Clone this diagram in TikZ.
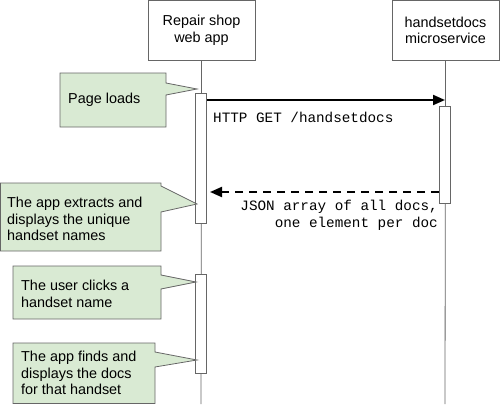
\documentclass[tikz,border=0pt]{standalone}
\usepackage{fontspec}
\setmainfont{Liberation Sans}
\setmonofont{Liberation Mono}
\usetikzlibrary{arrows.meta}
\definecolor{notefill}{HTML}{D9EAD3}
\definecolor{edge}{HTML}{666666}
\tikzset{
  participant/.style={draw=edge, line width=0.8pt, fill=white, minimum width=107pt, minimum height=59.5pt, align=center, inner sep=0pt, font=\fontsize{14.4}{16.7}\selectfont},
  lifeline/.style={draw=edge, line width=0.8pt},
  activation/.style={draw=edge, line width=0.8pt, fill=white},
  notebody/.style={draw=edge, line width=0.8pt, fill=notefill},
  notetext/.style={anchor=west, align=left, inner sep=0pt, font=\fontsize{14.4}{16.7}\selectfont},
  msgtext/.style={inner sep=0pt, font=\ttfamily\fontsize{14.3}{17}\selectfont},
  callmsg/.style={line width=2pt, -{Triangle[length=12pt,width=10pt]}},
  retmsg/.style={line width=2pt, dash pattern=on 8pt off 6pt, -{Triangle[length=12pt,width=10pt]}},
}
\newcommand{\callout}[9]{% name, x1,y1,x2,y2, py1,py2, tipx,tipy
  \fill[notefill] (#2,#3) -- (#4,#3) -- (#4,#6) -- (#8,#9) -- (#4,#7) -- (#4,#5) -- (#2,#5) -- cycle;
  \draw[notebody, fill=none, line join=miter] (#2,#3) -- (#4,#3) -- (#4,#6) -- (#8,#9) -- (#4,#7) -- (#4,#5) -- (#2,#5) -- cycle;
  \coordinate (#1) at (#8,#9);
}
\begin{document}
\begin{tikzpicture}[x=1pt,y=-1pt]
\useasboundingbox (0,0) rectangle (500,404);
% participants
\node[participant] (app) at (201.5,30.5) {Repair shop\\web app};
\node[participant] (svc) at (445.5,30.5) {handsetdocs\\microservice};
\coordinate (append) at (201,404);
\coordinate (svcend) at (445,404);
\draw[lifeline] (app.south) -- (append);
\draw[lifeline] (svc.south) -- (svcend);
% activations
\node[activation, minimum width=11pt, minimum height=130pt, inner sep=0pt, anchor=north] (act1) at (201,93) {};
\node[activation, minimum width=11pt, minimum height=99pt, inner sep=0pt, anchor=north] (act2) at (201,274) {};
\node[activation, minimum width=11pt, minimum height=97pt, inner sep=0pt, anchor=north] (act3) at (445,106) {};
% messages
\coordinate (getend) at (445,100);
\draw[callmsg] (act1.east |- getend) -- (getend);
\node[msgtext, anchor=west] (getlbl) at (213,117) {HTTP GET /handsetdocs};
\coordinate (retend) at (210,192);
\draw[retmsg] (act3.west |- retend) -- (retend);
\node[msgtext, anchor=east, align=right] (retlbl) at (438,215.5) {JSON array of all docs,\\one element per doc};
% notes
\callout{n1tip}{60}{73}{166}{127}{83}{95}{197}{89}
\node[notetext] (n1) at (68,100) {Page loads};
\callout{n2tip}{0.5}{183}{161}{251}{186}{212}{197}{204}
\node[notetext] (n2) at (7,219) {The app extracts and\\displays the unique\\handset names};
\callout{n3tip}{13}{266}{161}{319}{275}{289}{196}{282}
\node[notetext] (n3) at (21,293.5) {The user clicks a\\handset name};
\callout{n4tip}{13}{343}{155}{403.5}{352}{367}{197}{360}
\node[notetext] (n4) at (21,373) {The app finds and\\displays the docs\\for that handset};
\end{tikzpicture}
\end{document}
